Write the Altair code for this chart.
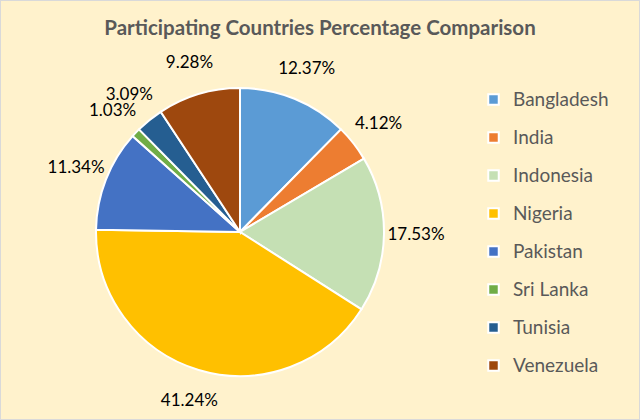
import altair as alt
import pandas as pd

countries = ["Bangladesh", "India", "Indonesia", "Nigeria", "Pakistan", "Sri Lanka", "Tunisia", "Venezuela"]
percents = [12.37, 4.12, 17.53, 41.24, 11.34, 1.03, 3.09, 9.28]
labels = ["12.37%", "4.12%", "17.53%", "41.24%", "11.34%", "1.03%", "3.09%", "9.28%"]
colors = ["#5B9BD5", "#ED7D31", "#C5E0B4", "#FFC000", "#4472C4", "#70AD47", "#255E91", "#9E480E"]
title_text = "Participating Countries Percentage Comparison"

df = pd.DataFrame({
    "country": countries,
    "pct": percents,
    "label": labels,
    "idx": list(range(len(countries))),
})

CX, CY, R = 240, 232, 144
FONT = "Lato"

base = alt.Chart(df).encode(
    theta=alt.Theta("pct:Q", stack=True),
    order=alt.Order("idx:O"),
)

pie = base.mark_arc(stroke="white", strokeWidth=2, outerRadius=R).encode(
    x=alt.value(CX),
    y=alt.value(CY),
    color=alt.Color(
        "country:N",
        sort=countries,
        scale=alt.Scale(domain=countries, range=colors),
        legend=alt.Legend(
            title=None,
            orient="none",
            legendX=484,
            legendY=90,
            symbolType="square",
            symbolSize=110,
            symbolStrokeColor="white",
            symbolStrokeWidth=2,
            labelFont=FONT,
            labelFontSize=19,
            labelColor="#595959",
            rowPadding=18,
            labelOffset=10,
        ),
    ),
)

text = base.mark_text(
    radius=176, font=FONT, fontSize=17, color="#000000", align="center", baseline="middle"
).encode(
    x=alt.value(CX),
    y=alt.value(CY),
    text="label:N",
)

title = alt.Chart(pd.DataFrame({"t": [title_text]})).mark_text(
    font=FONT, fontSize=20.5, fontWeight="bold", color="#595959", align="center", baseline="middle"
).encode(
    x=alt.value(320),
    y=alt.value(29),
    text="t:N",
)

chart = alt.layer(pie, text, title).properties(
    width=640,
    height=420,
    background="#FFF2CC",
    padding=0,
    autosize=alt.AutoSizeParams(type="none"),
).configure_view(stroke="#D9D9D9", strokeWidth=2)

chart.save("out.html", embed_options={"renderer": "svg", "actions": False})
